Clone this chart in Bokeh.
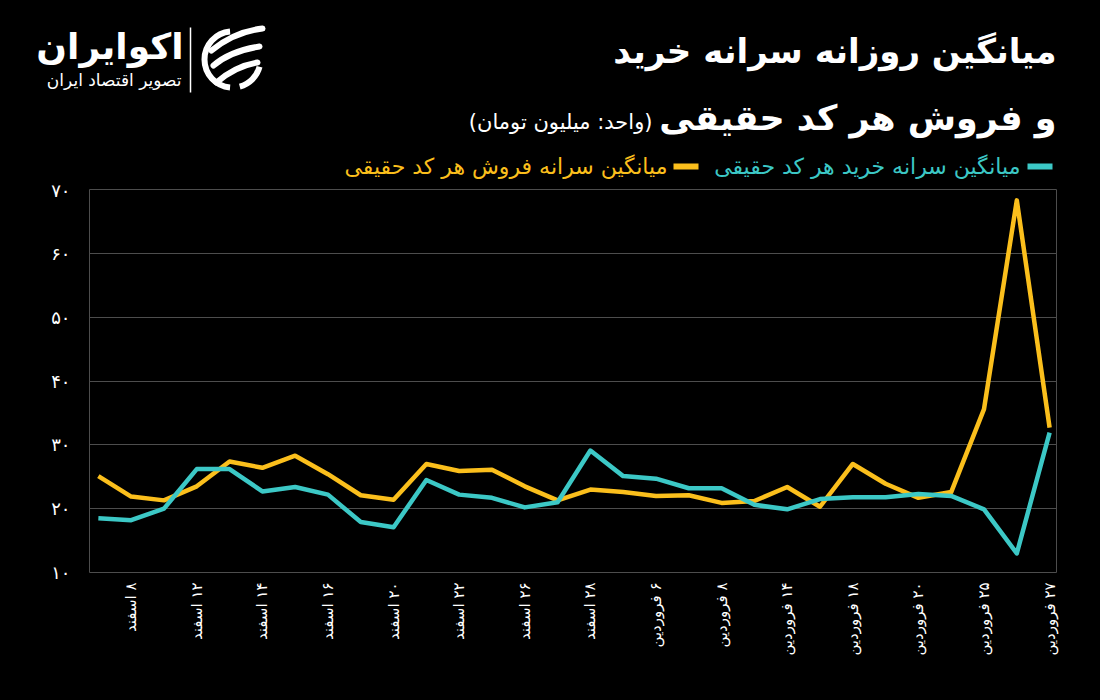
import math
from bokeh.plotting import figure
from bokeh.layouts import column
from bokeh.models import Label, FixedTicker, Range1d
from bokeh.embed import file_html
from bokeh.resources import INLINE

# ---- data (million toman) ----
buy_avg = [18.5, 18.2, 20.0, 26.2, 26.2, 22.7, 23.4, 22.2, 17.9, 17.1,
           24.5, 22.2, 21.7, 20.2, 21.0, 29.1, 25.1, 24.7, 23.2, 23.2,
           20.6, 19.9, 21.5, 21.8, 21.8, 22.3, 22.0, 19.9, 13.0, 31.9]
sell_avg = [25.1, 21.9, 21.3, 23.5, 27.4, 26.4, 28.3, 25.4, 22.1, 21.4,
            27.0, 25.9, 26.1, 23.5, 21.3, 23.0, 22.6, 22.0, 22.1, 20.9,
            21.2, 23.4, 20.3, 27.0, 23.9, 21.7, 22.6, 35.6, 68.3, 32.7]
date_labels = ["۸ اسفند", "۱۲ اسفند", "۱۴ اسفند", "۱۶ اسفند", "۲۰ اسفند",
               "۲۲ اسفند", "۲۶ اسفند", "۲۸ اسفند", "۶ فروردین", "۸ فروردین",
               "۱۴ فروردین", "۱۸ فروردین", "۲۰ فروردین", "۲۵ فروردین", "۲۷ فروردین"]
y_ticks = [10, 20, 30, 40, 50, 60, 70]
y_tick_labels = ["۱۰", "۲۰", "۳۰", "۴۰", "۵۰", "۶۰", "۷۰"]

title_1 = "میانگین روزانه سرانه خرید"
title_2 = "و فروش هر کد حقیقی"
unit_text = "(واحد: میلیون تومان)"
legend_buy = "میانگین سرانه خرید هر کد حقیقی"
legend_sell = "میانگین سرانه فروش هر کد حقیقی"
brand = "اکوایران"
brand_sub = "تصویر اقتصاد ایران"

RLE, PDF = "\u202b", "\u202c"   # right-to-left embedding
FONT = "DejaVu Sans"
CYAN = "#3cc8c6"
YELLOW = "#fbbf1c"
BG = "#000000"
GRID = "#4d4d4d"

W, H = 1100, 700
HEAD = 179
FL, FR, FT, FB = 89, 1056, 189, 572   # plot frame in page pixels

# ---------------- header (title, legend, logo) ----------------
h = figure(width=W, height=HEAD, output_backend="svg", toolbar_location=None,
           x_range=Range1d(0, W), y_range=Range1d(HEAD, 0),
           min_border=0, min_border_left=0, min_border_right=0,
           min_border_top=0, min_border_bottom=0)
h.frame_align = False
h.axis.visible = False
h.grid.grid_line_color = None
h.outline_line_color = None
h.background_fill_color = BG
h.border_fill_color = BG


def lab(x, y, text, size, color="white", bold=False, align="right"):
    h.add_layout(Label(x=x, y=y, text=text, text_font=FONT, text_font_size=size,
                       text_color=color, text_font_style="bold" if bold else "normal",
                       text_align=align, text_baseline="middle"))


lab(1056, 50, title_1, "34px", bold=True)
lab(1056, 117, title_2, "35px", bold=True)
lab(652, 121, RLE + unit_text + PDF, "21px")
h.segment(x0=[1027], y0=[166], x1=[1052], y1=[166], line_color=CYAN, line_width=6)
lab(1020, 166, legend_buy, "22px", color=CYAN)
h.segment(x0=[673], y0=[166], x1=[698], y1=[166], line_color=YELLOW, line_width=6)
lab(667, 166, legend_sell, "22px", color=YELLOW)
lab(183, 46, brand, "36px", bold=True)
lab(181, 79, brand_sub, "17px")
# logo: separator and emblem
h.segment(x0=[190], y0=[27], x1=[190], y1=[92], line_color="white", line_width=1.5)
h.arc(x=232, y=59, radius=28, start_angle=math.radians(95), end_angle=math.radians(265),
      line_color="white", line_width=6)
h.arc(x=232, y=59, radius=28, start_angle=math.radians(285), end_angle=math.radians(345),
      line_color="white", line_width=6)
h.bezier(x0=[211, 213, 216], y0=[50, 65, 82], x1=[262, 259, 257], y1=[28, 46, 62],
         cx0=[228, 228, 232], cy0=[36, 52, 68], cx1=[245, 246, 245], cy1=[30, 48, 64],
         line_color="white", line_width=6, line_cap="round")

# ---------------- main chart ----------------
n = len(buy_avg)
xs = list(range(n))
tick_pos = list(range(1, n, 2))

p = figure(width=W, height=H - HEAD, output_backend="svg", toolbar_location=None,
           x_range=Range1d(-0.27, n - 1 + 0.21), y_range=Range1d(10, 70),
           min_border_left=FL, min_border_right=W - FR, min_border_top=FT - HEAD,
           min_border_bottom=H - FB)
p.frame_align = False
p.background_fill_color = BG
p.border_fill_color = BG
p.outline_line_color = GRID
p.outline_line_width = 1

p.line(xs, sell_avg, line_color=YELLOW, line_width=4.5, line_join="round")
p.line(xs, buy_avg, line_color=CYAN, line_width=4.5, line_join="round")

p.xgrid.grid_line_color = None
p.ygrid.grid_line_color = GRID
p.ygrid.grid_line_width = 1

p.yaxis.ticker = FixedTicker(ticks=y_ticks)
p.yaxis.major_label_overrides = {t: l for t, l in zip(y_ticks, y_tick_labels)}
p.xaxis.ticker = FixedTicker(ticks=tick_pos)
p.xaxis.major_label_overrides = {t: RLE + l + PDF for t, l in zip(tick_pos, date_labels)}
p.xaxis.major_label_orientation = math.pi / 2
for ax in (p.xaxis, p.yaxis):
    ax.axis_line_color = None
    ax.major_tick_line_color = None
    ax.minor_tick_line_color = None
    ax.major_label_text_color = "white"
    ax.major_label_text_font = FONT
p.yaxis.major_label_text_font_size = "18px"
p.yaxis.major_label_standoff = 13
p.xaxis.major_label_text_font_size = "15px"
p.xaxis.major_label_standoff = 4

layout = column(h, p, spacing=0, styles={"background-color": BG})
out = file_html(layout, INLINE)
open("out.html", "w").write(out)
